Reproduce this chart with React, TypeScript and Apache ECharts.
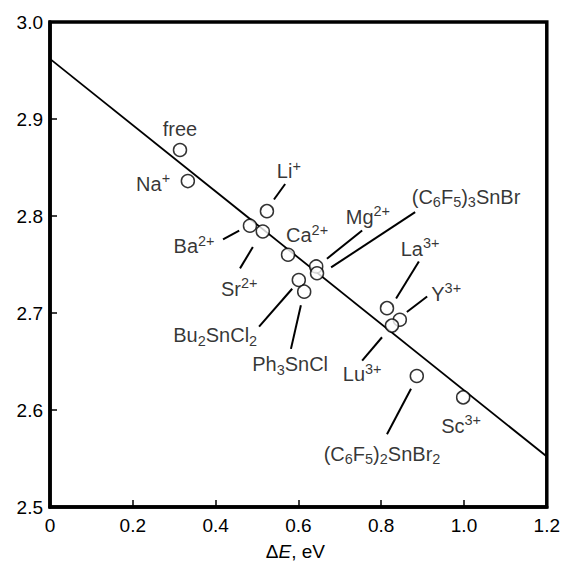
import React, { useEffect, useRef } from "react";
import * as echarts from "echarts";

// Measured points (ΔE, eV ; y value)
const pointX = [0.314, 0.333, 0.524, 0.483, 0.514, 0.575, 0.643, 0.645, 0.601, 0.614, 0.814, 0.845, 0.826, 0.886, 0.998];
const pointY = [2.868, 2.836, 2.805, 2.790, 2.784, 2.760, 2.748, 2.741, 2.734, 2.722, 2.705, 2.693, 2.687, 2.635, 2.613];

// Regression line endpoints
const fitX = [0, 1.2];
const fitY = [2.962, 2.552];

// Labels (rich text) and their anchor in data coordinates
const labelText = [
  "{n|free}",
  "{n|Na}{sup|+}",
  "{n|Li}{sup|+}",
  "{n|Ba}{sup|2+}",
  "{n|Sr}{sup|2+}",
  "{n|Ca}{sup|2+}",
  "{n|Mg}{sup|2+}",
  "{n|(C}{sub|6}{n|F}{sub|5}{n|)}{sub|3}{n|SnBr}",
  "{n|La}{sup|3+}",
  "{n|Y}{sup|3+}",
  "{n|Lu}{sup|3+}",
  "{n|Sc}{sup|3+}",
  "{n|(C}{sub|6}{n|F}{sub|5}{n|)}{sub|2}{n|SnBr}{sub|2}",
  "{n|Bu}{sub|2}{n|SnCl}{sub|2}",
  "{n|Ph}{sub|3}{n|SnCl}",
];
const labelX = [0.314, 0.249, 0.577, 0.348, 0.457, 0.621, 0.768, 1.005, 0.894, 0.957, 0.754, 0.993, 0.802, 0.399, 0.580];
const labelY = [2.890, 2.833, 2.846, 2.769, 2.725, 2.780, 2.799, 2.820, 2.766, 2.720, 2.637, 2.584, 2.555, 2.677, 2.647];

// Leader lines [x1, y1, x2, y2] in data coordinates
const leaderX1 = [0.541, 0.418, 0.459, 0.669, 0.679, 0.836, 0.862, 0.754, 0.814, 0.505, 0.582];
const leaderY1 = [2.817, 2.776, 2.746, 2.756, 2.747, 2.715, 2.701, 2.651, 2.575, 2.686, 2.663];
const leaderX2 = [0.568, 0.457, 0.490, 0.754, 0.882, 0.891, 0.911, 0.802, 0.872, 0.585, 0.606];
const leaderY2 = [2.833, 2.785, 2.768, 2.785, 2.804, 2.753, 2.717, 2.675, 2.622, 2.725, 2.708];

const xTicks = [0, 0.2, 0.4, 0.6, 0.8, 1.0, 1.2];
const yTicks = [2.5, 2.6, 2.7, 2.8, 2.9, 3.0];

const FONT = "'Liberation Sans', Arial, Helvetica, sans-serif";

export default function App() {
  const ref = useRef<HTMLDivElement>(null);
  useEffect(() => {
    document.body.style.margin = "0";
    if (!ref.current) return;
    const chart = echarts.init(ref.current, undefined, { renderer: "svg" });
    const rich = {
      n: { fontSize: 20, fontFamily: FONT, color: "#000", lineHeight: 26 },
      sup: { fontSize: 14.5, fontFamily: FONT, color: "#000", verticalAlign: "top", padding: [0, 0, 9, 0] },
      sub: { fontSize: 14.5, fontFamily: FONT, color: "#000", verticalAlign: "bottom", padding: [8, 0, 0, 0] },
    };
    chart.setOption({
      animation: false,
      backgroundColor: "#fff",
      grid: {
        left: 50,
        right: 16,
        top: 22,
        bottom: 55,
        show: true,
        borderColor: "#000",
        borderWidth: 3.5,
        containLabel: false,
      },
      xAxis: {
        type: "value",
        min: 0,
        max: 1.2,
        interval: 0.2,
        name: "{n|Δ}{i|E}{n|, eV}",
        nameLocation: "middle",
        nameGap: 35,
        nameTextStyle: {
          padding: [0, 6, 0, 0],
          rich: {
            n: { fontSize: 19, fontFamily: FONT, color: "#000" },
            i: { fontSize: 19, fontFamily: FONT, color: "#000", fontStyle: "italic" },
          },
        },
        axisLine: { show: true, onZero: false, lineStyle: { color: "#000", width: 3.5 } },
        axisTick: { show: true, inside: true, length: 7, lineStyle: { color: "#000", width: 1.5 } },
        axisLabel: {
          color: "#000",
          fontSize: 19,
          fontFamily: FONT,
          margin: 9,
          formatter: (v: number) => {
            const t = xTicks.find((k) => Math.abs(k - v) < 1e-6);
            if (t === undefined) return "";
            return t === 0 ? "0" : t.toFixed(1);
          },
        },
        splitLine: { show: false },
      },
      yAxis: {
        type: "value",
        min: 2.5,
        max: 3.0,
        interval: 0.1,
        axisLine: { show: true, onZero: false, lineStyle: { color: "#000", width: 3.5 } },
        axisTick: { show: true, inside: true, length: 7, lineStyle: { color: "#000", width: 1.5 } },
        axisLabel: {
          color: "#000",
          fontSize: 19,
          fontFamily: FONT,
          margin: 7,
          formatter: (v: number) => {
            const t = yTicks.find((k) => Math.abs(k - v) < 1e-6);
            return t === undefined ? "" : t.toFixed(1);
          },
        },
        splitLine: { show: false },
      },
      series: [
        {
          type: "line",
          data: fitX.map((x, i) => [x, fitY[i]]),
          symbol: "none",
          lineStyle: { color: "#000", width: 1.8 },
          z: 2,
        },
        {
          type: "lines",
          coordinateSystem: "cartesian2d",
          data: leaderX1.map((x, i) => ({ coords: [[x, leaderY1[i]], [leaderX2[i], leaderY2[i]]] })),
          lineStyle: { color: "#000", width: 2, opacity: 1 },
          z: 3,
        },
        {
          type: "scatter",
          data: pointX.map((x, i) => [x, pointY[i]]),
          symbol: "circle",
          symbolSize: 13,
          itemStyle: { color: "#fff", borderColor: "#000", borderWidth: 1.5 },
          z: 4,
        },
        {
          type: "scatter",
          data: labelX.map((x, i) => [x, labelY[i]]),
          symbolSize: 0,
          silent: true,
          label: {
            show: true,
            position: "inside",
            color: "#000",
            formatter: (p: any) => labelText[p.dataIndex],
            rich,
          },
          z: 5,
        },
      ],
    });
    return () => chart.dispose();
  }, []);
  return <div ref={ref} style={{ width: 563, height: 566 }} />;
}
